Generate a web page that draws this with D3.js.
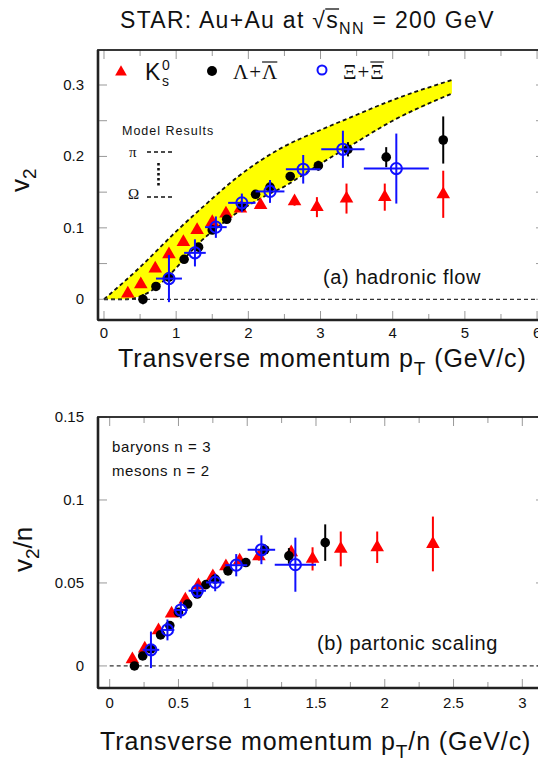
<!DOCTYPE html>
<html>
<head>
<meta charset="utf-8">
<script src="https://cdn.jsdelivr.net/npm/d3@7"></script>
<style>
body { margin: 0; background: #fff; }
text { font-family: "Liberation Sans", Arial, sans-serif; fill: #111; }
.serif { font-family: "Liberation Serif", "Times New Roman", serif; }
</style>
</head>
<body>
<svg id="chart" width="538" height="762"></svg>
<script>
// ---- panel (a): v2 vs pT ----
var kPt  = [0.33, 0.51, 0.71, 0.90, 1.10, 1.29, 1.50, 1.69, 1.89, 2.17, 2.64, 2.95, 3.36, 3.89, 4.70];
var kV2  = [0.008, 0.021, 0.043, 0.063, 0.080, 0.097, 0.108, 0.120, 0.127, 0.132, 0.137, 0.129, 0.141, 0.143, 0.147];
var kErr = [0.002, 0.002, 0.002, 0.002, 0.002, 0.003, 0.003, 0.004, 0.004, 0.005, 0.006, 0.014, 0.021, 0.019, 0.033];

var lPt  = [0.54, 0.72, 0.90, 1.11, 1.31, 1.50, 1.70, 1.91, 2.10, 2.30, 2.58, 2.97, 3.38, 3.91, 4.70];
var lV2  = [0.000, 0.018, 0.031, 0.056, 0.073, 0.097, 0.112, 0.130, 0.147, 0.157, 0.172, 0.187, 0.210, 0.199, 0.223];
var lErr = [0.007, 0.002, 0.002, 0.002, 0.003, 0.003, 0.003, 0.004, 0.004, 0.005, 0.006, 0.007, 0.010, 0.014, 0.033];

var xiPt    = [0.90, 1.26, 1.55, 1.91, 2.30, 2.76, 3.31, 4.05];
var xiV2    = [0.029, 0.065, 0.101, 0.135, 0.151, 0.182, 0.210, 0.183];
var xiErr   = [0.033, 0.019, 0.015, 0.013, 0.016, 0.020, 0.026, 0.049];
var xiPtErr = [0.18, 0.15, 0.15, 0.19, 0.20, 0.24, 0.30, 0.45];

// model band (pi .. Omega)
var bandUpPt = [0, 0.25, 0.5, 0.75, 1.0, 1.4, 1.86, 2.46, 3.0, 3.4, 4.0, 4.82];
var bandUpV2 = [0, 0.022, 0.045, 0.070, 0.095, 0.132, 0.172, 0.212, 0.237, 0.254, 0.279, 0.307];
var bandLoPt = [0, 0.3, 0.5, 0.7, 0.9, 1.1, 1.3, 1.6, 1.9, 2.2, 2.5, 2.8, 3.1, 3.4, 4.0, 4.82];
var bandLoV2 = [0, 0, 0.004, 0.015, 0.033, 0.055, 0.077, 0.103, 0.125, 0.143, 0.158, 0.177, 0.196, 0.214, 0.250, 0.288];

// ---- panel (b): v2/n vs pT/n ----
var kbX   = [0.165, 0.255, 0.355, 0.45, 0.55, 0.645, 0.75, 0.845, 0.945, 1.085, 1.32, 1.475, 1.68, 1.945, 2.35];
var kbY   = [0.004, 0.0105, 0.0215, 0.0315, 0.040, 0.0485, 0.054, 0.060, 0.0635, 0.066, 0.0685, 0.0645, 0.0705, 0.0715, 0.0735];
var kbErr = [0.001, 0.001, 0.001, 0.001, 0.001, 0.0015, 0.0015, 0.002, 0.002, 0.0025, 0.003, 0.007, 0.0105, 0.0095, 0.0165];

var lbX   = [0.18, 0.24, 0.30, 0.37, 0.437, 0.50, 0.567, 0.637, 0.70, 0.767, 0.86, 0.99, 1.127, 1.303, 1.567];
var lbY   = [0.000, 0.006, 0.0103, 0.0187, 0.0243, 0.0323, 0.0373, 0.0433, 0.049, 0.0523, 0.0573, 0.0623, 0.070, 0.0663, 0.0743];
var lbErr = [0.0023, 0.0007, 0.0007, 0.0007, 0.001, 0.001, 0.001, 0.0013, 0.0013, 0.0017, 0.002, 0.0023, 0.0033, 0.0047, 0.011];

var xibX    = [0.30, 0.42, 0.517, 0.637, 0.767, 0.92, 1.103, 1.35];
var xibY    = [0.0097, 0.0217, 0.0337, 0.0453, 0.0503, 0.0607, 0.070, 0.061];
var xibErr  = [0.011, 0.0063, 0.005, 0.0043, 0.0053, 0.0067, 0.0087, 0.0163];
var xibXErr = [0.06, 0.05, 0.05, 0.063, 0.067, 0.08, 0.10, 0.15];

// ticks / labels
var topXTicks = [0, 1, 2, 3, 4, 5, 6];
var topXLabels = ["0", "1", "2", "3", "4", "5", "6"];
var topYTicks = [0, 0.1, 0.2, 0.3];
var topYLabels = ["0", "0.1", "0.2", "0.3"];
var botXTicks = [0, 0.5, 1, 1.5, 2, 2.5, 3];
var botXLabels = ["0", "0.5", "1", "1.5", "2", "2.5", "3"];
var botYTicks = [0, 0.05, 0.1, 0.15];
var botYLabels = ["0", "0.05", "0.1", "0.15"];

var svg = d3.select("#chart");

var RED = "#ff0000", BLUE = "#1010ff", BLACK = "#000";

// scales
var xA = d3.scaleLinear().domain([-0.083, 6.11]).range([98, 545]);
var yA = d3.scaleLinear().domain([-0.029, 0.349]).range([320, 50]);
var xB = d3.scaleLinear().domain([-0.085, 3.165]).range([98, 545]);
var yB = d3.scaleLinear().domain([-0.0133, 0.15]).range([688, 417]);

function frame(x, y, xMinor, yMinor, xLabTicks, xLabs, yLabTicks, yLabs, xLabY) {
  var g = svg.append("g");
  var x0 = x.range()[0], x1 = x.range()[1], y0 = y.range()[1], y1 = y.range()[0];
  // minor / major ticks on all four sides, pointing inward
  xMinor.forEach(function(v) {
    var major = xLabTicks.some(function(t) { return Math.abs(t - v) < 1e-6; });
    var len = major ? 9 : 6;
    g.append("line").attr("x1", x(v)).attr("x2", x(v)).attr("y1", y1).attr("y2", y1 - len)
      .attr("stroke", "#999").attr("stroke-width", 1);
    g.append("line").attr("x1", x(v)).attr("x2", x(v)).attr("y1", y0).attr("y2", y0 + len)
      .attr("stroke", "#999").attr("stroke-width", 1);
  });
  yMinor.forEach(function(v) {
    g.append("line").attr("x1", x0).attr("x2", x0 + 9).attr("y1", y(v)).attr("y2", y(v))
      .attr("stroke", "#999").attr("stroke-width", 1);
    g.append("line").attr("x1", x1).attr("x2", x1 - 9).attr("y1", y(v)).attr("y2", y(v))
      .attr("stroke", "#999").attr("stroke-width", 1);
  });
  g.append("rect").attr("x", x0).attr("y", y0).attr("width", x1 - x0).attr("height", y1 - y0)
    .attr("fill", "none").attr("stroke", "#222").attr("stroke-width", 1.8);
  g.append("line").attr("x1", x0).attr("x2", x1).attr("y1", y1).attr("y2", y1)
    .attr("stroke", "#222").attr("stroke-width", 2.6);
  g.append("line").attr("x1", x0).attr("x2", x0).attr("y1", y0).attr("y2", y1)
    .attr("stroke", "#222").attr("stroke-width", 2.6);

  xLabTicks.forEach(function(v, i) {
    g.append("text").attr("x", x(v)).attr("y", xLabY).attr("text-anchor", "middle")
      .style("font-size", "15px").text(xLabs[i]);
  });
  yLabTicks.forEach(function(v, i) {
    g.append("text").attr("x", 84).attr("y", y(v) + 5).attr("text-anchor", "end")
      .style("font-size", "15px").text(yLabs[i]);
  });
  // dashed zero line
  g.append("line").attr("x1", x(0)).attr("x2", x1).attr("y1", y(0)).attr("y2", y(0))
    .attr("stroke", "#333").attr("stroke-width", 1.2).attr("stroke-dasharray", "4,3");
}

function series(x, y, px, py, ey, ex, kind, size) {
  var g = svg.append("g");
  var col = kind == "k" ? RED : kind == "l" ? BLACK : BLUE;
  var data = px.map(function(d, i) {
    return { x: d, y: py[i], ey: ey[i], ex: ex ? ex[i] : 0 };
  });
  g.selectAll(".ev").data(data).enter().append("line")
    .attr("x1", function(d) { return x(d.x); }).attr("x2", function(d) { return x(d.x); })
    .attr("y1", function(d) { return y(d.y - d.ey); }).attr("y2", function(d) { return y(d.y + d.ey); })
    .attr("stroke", col).attr("stroke-width", 2);
  if (ex) {
    g.selectAll(".eh").data(data).enter().append("line")
      .attr("x1", function(d) { return x(d.x - d.ex); }).attr("x2", function(d) { return x(d.x + d.ex); })
      .attr("y1", function(d) { return y(d.y); }).attr("y2", function(d) { return y(d.y); })
      .attr("stroke", col).attr("stroke-width", 2);
  }
  if (kind == "k") {
    g.selectAll(".m").data(data).enter().append("path")
      .attr("d", d3.symbol().type(d3.symbolTriangle).size(size))
      .attr("transform", function(d) { return "translate(" + x(d.x) + "," + y(d.y) + ")"; })
      .attr("fill", RED);
  } else if (kind == "l") {
    g.selectAll(".m").data(data).enter().append("circle")
      .attr("cx", function(d) { return x(d.x); }).attr("cy", function(d) { return y(d.y); })
      .attr("r", 4.8).attr("fill", BLACK);
  } else {
    g.selectAll(".m").data(data).enter().append("circle")
      .attr("cx", function(d) { return x(d.x); }).attr("cy", function(d) { return y(d.y); })
      .attr("r", 5.6).attr("fill", "none").attr("stroke", BLUE).attr("stroke-width", 2);
  }
}

// ---------- title ----------
var title = svg.append("text").attr("x", 120).attr("y", 28).style("font-size", "23px")
  .style("letter-spacing", "1.3px");
title.append("tspan").text("STAR: Au+Au at ");
title.append("tspan").text("\u221A");
var sSpan = title.append("tspan").text("s");
title.append("tspan").attr("dy", 6).style("font-size", "16px").text("NN");
title.append("tspan").attr("dy", -6).text(" = 200 GeV");
var sb = sSpan.node().getBBox();
svg.append("line").attr("x1", sb.x - 1).attr("x2", sb.x + sb.width)
  .attr("y1", sb.y + 2).attr("y2", sb.y + 2).attr("stroke", "#111").attr("stroke-width", 1.3);

// ---------- panel (a) ----------
var lineA = d3.line().x(function(d) { return xA(d[0]); }).y(function(d) { return yA(d[1]); })
  .curve(d3.curveMonotoneX);
var up = bandUpPt.map(function(d, i) { return [d, bandUpV2[i]]; });
var lo = bandLoPt.map(function(d, i) { return [d, bandLoV2[i]]; });
var loRev = lo.slice().reverse();
svg.append("path")
  .attr("d", lineA(up) + lineA.curve(d3.curveLinear)(loRev).replace("M", "L") + "Z")
  .attr("fill", "#ffff00");
lineA.curve(d3.curveMonotoneX);
[up, lo].forEach(function(c) {
  svg.append("path").attr("d", lineA(c)).attr("fill", "none")
    .attr("stroke", "#111").attr("stroke-width", 1.8).attr("stroke-dasharray", "4,3");
});

frame(xA, yA, d3.range(0, 6.01, 0.5), d3.range(0, 0.34, 0.05), topXTicks, topXLabels, topYTicks, topYLabels, 338);

series(xA, yA, kPt, kV2, kErr, null, "k", 80);
series(xA, yA, lPt, lV2, lErr, null, "l");
series(xA, yA, xiPt, xiV2, xiErr, xiPtErr, "x");

// legend
svg.append("path").attr("d", d3.symbol().type(d3.symbolTriangle).size(60))
  .attr("transform", "translate(121,72)").attr("fill", RED);
svg.append("text").attr("x", 145).attr("y", 80).style("font-size", "23px").text("K");
svg.append("text").attr("x", 162).attr("y", 70).style("font-size", "14px").text("0");
svg.append("text").attr("x", 162).attr("y", 86).style("font-size", "14px").text("s");
svg.append("circle").attr("cx", 212).attr("cy", 71).attr("r", 5).attr("fill", BLACK);
var lt = svg.append("text").attr("class", "serif").attr("x", 233).attr("y", 79)
  .style("font-size", "21px").style("letter-spacing", "1px");
lt.append("tspan").text("\u039B+");
var lbar = lt.append("tspan").text("\u039B");
var lb = lbar.node().getBBox();
svg.append("line").attr("x1", lb.x).attr("x2", lb.x + lb.width - 1).attr("y1", lb.y + 2).attr("y2", lb.y + 2)
  .attr("stroke", "#111").attr("stroke-width", 1.2);
svg.append("circle").attr("cx", 322).attr("cy", 70).attr("r", 4.5).attr("fill", "none")
  .attr("stroke", BLUE).attr("stroke-width", 2);
var xt = svg.append("text").attr("class", "serif").attr("x", 343).attr("y", 79)
  .style("font-size", "21px").style("letter-spacing", "1px");
xt.append("tspan").text("\u039E+");
var xbar = xt.append("tspan").text("\u039E");
var xb = xbar.node().getBBox();
svg.append("line").attr("x1", xb.x).attr("x2", xb.x + xb.width - 1).attr("y1", xb.y + 2).attr("y2", xb.y + 2)
  .attr("stroke", "#111").attr("stroke-width", 1.2);

// model results key
svg.append("text").attr("x", 122).attr("y", 135).style("font-size", "12.5px").style("letter-spacing", "1px")
  .text("Model Results");
svg.append("text").attr("class", "serif").attr("x", 129).attr("y", 157).style("font-size", "15px").text("\u03C0");
svg.append("text").attr("class", "serif").attr("x", 128).attr("y", 199).style("font-size", "15px").text("\u03A9");
[152, 197].forEach(function(yy) {
  svg.append("line").attr("x1", 147).attr("x2", 175).attr("y1", yy).attr("y2", yy)
    .attr("stroke", "#111").attr("stroke-width", 1.4).attr("stroke-dasharray", "4,3");
});
svg.append("line").attr("x1", 158.5).attr("x2", 158.5).attr("y1", 163).attr("y2", 186)
  .attr("stroke", "#111").attr("stroke-width", 2.6).attr("stroke-dasharray", "2.6,2.4");

svg.append("text").attr("x", 323).attr("y", 284).style("font-size", "20px").style("letter-spacing", "0.6px")
  .text("(a) hadronic flow");

// axis titles (a)
var xt1 = svg.append("text").attr("x", 118).attr("y", 367).style("font-size", "25px")
  .style("letter-spacing", "0.9px");
xt1.append("tspan").text("Transverse momentum p");
xt1.append("tspan").attr("dy", 8).style("font-size", "19px").text("T");
xt1.append("tspan").attr("dy", -8).text(" (GeV/c)");
var yt1 = svg.append("text").attr("transform", "translate(29,192) rotate(-90)").style("font-size", "26px");
yt1.append("tspan").text("v");
yt1.append("tspan").attr("dy", 7).style("font-size", "19px").text("2");

// ---------- panel (b) ----------
frame(xB, yB, d3.range(0, 3.01, 0.25), d3.range(0, 0.151, 0.05), botXTicks, botXLabels, botYTicks, botYLabels, 708);

series(xB, yB, kbX, kbY, kbErr, null, "k", 80);
series(xB, yB, lbX, lbY, lbErr, null, "l");
series(xB, yB, xibX, xibY, xibErr, xibXErr, "x");

svg.append("text").attr("x", 112).attr("y", 452).style("font-size", "15px").style("letter-spacing", "0.6px")
  .text("baryons n = 3");
svg.append("text").attr("x", 112).attr("y", 476).style("font-size", "15px").style("letter-spacing", "0.6px")
  .text("mesons n = 2");
svg.append("text").attr("x", 317).attr("y", 650).style("font-size", "20px").style("letter-spacing", "0.6px")
  .text("(b) partonic scaling");

var xt2 = svg.append("text").attr("x", 100).attr("y", 750).style("font-size", "25px")
  .style("letter-spacing", "0.9px");
xt2.append("tspan").text("Transverse momentum p");
xt2.append("tspan").attr("dy", 8).style("font-size", "19px").text("T");
xt2.append("tspan").attr("dy", -8).text("/n (GeV/c)");
var yt2 = svg.append("text").attr("transform", "translate(32,572) rotate(-90)").style("font-size", "26px");
yt2.append("tspan").text("v");
yt2.append("tspan").attr("dy", 7).style("font-size", "19px").text("2");
yt2.append("tspan").attr("dy", -7).text("/n");
</script>
</body>
</html>
